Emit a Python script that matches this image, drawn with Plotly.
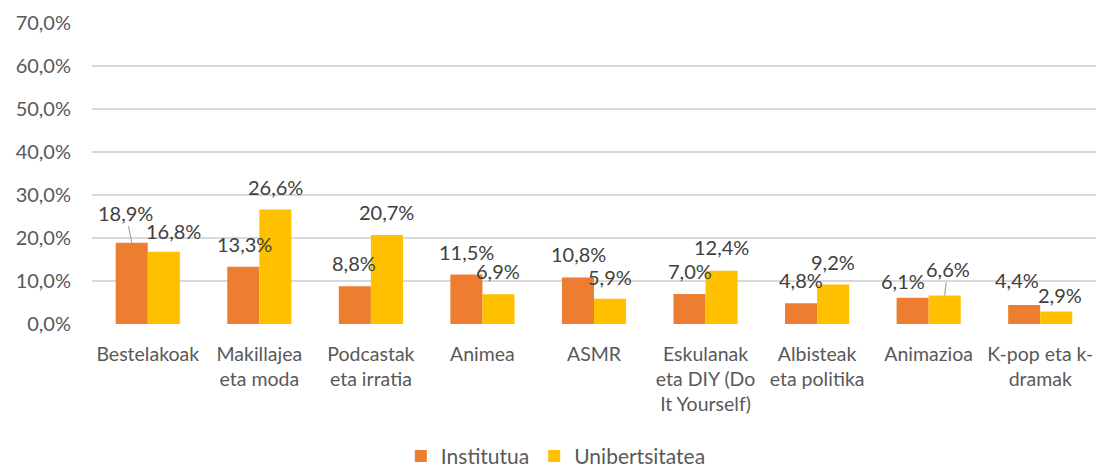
import plotly.graph_objects as go

categories = ["Bestelakoak", "Makillajea<br>eta moda", "Podcastak<br>eta irratia", "Animea", "ASMR",
              "Eskulanak<br>eta DIY (Do<br>It Yourself)", "Albisteak<br>eta politika", "Animazioa",
              "K-pop eta k-<br>dramak"]
institutua = [18.9, 13.3, 8.8, 11.5, 10.8, 7.0, 4.8, 6.1, 4.4]
unibertsitatea = [16.8, 26.6, 20.7, 6.9, 5.9, 12.4, 9.2, 6.6, 2.9]
series_names = ["Institutua", "Unibertsitatea"]

# label placement offsets (px) relative to bar top centre: (dx, dy up, leader line)
inst_label_off = [(-6, 30, True), (1, 23, False), (-1, 23, False), (0, 23, False), (0, 24, False),
                  (0, 23, False), (0, 23, False), (-10, 17, False), (-7, 25, False)]
uni_label_off = [(10, 21, False), (0, 23, False), (0, 23, False), (0, 23, False), (0, 22, False),
                 (0, 24, False), (0, 22, False), (3, 27, True), (4, 17, False)]

ORANGE = "#ED7D31"
GOLD = "#FFC000"
FONT = "Lato"
AXIS_COLOR = "#595959"
LABEL_COLOR = "#404040"

fig = go.Figure()
fig.add_trace(go.Bar(x=categories, y=institutua, name=series_names[0], marker_color=ORANGE,
                     marker_line_width=0))
fig.add_trace(go.Bar(x=categories, y=unibertsitatea, name=series_names[1], marker_color=GOLD,
                     marker_line_width=0))

bar_half = 16
annotations = []
for vals, offs, sign in ((institutua, inst_label_off, -1), (unibertsitatea, uni_label_off, 1)):
    for cat, v, (dx, dy, leader) in zip(categories, vals, offs):
        txt = f"{v:.1f}".replace(".", ",") + "%"
        if leader:
            annotations.append(dict(x=cat, y=v, xref="x", yref="y", text=txt,
                                    showarrow=True, arrowhead=0, arrowwidth=1.2,
                                    arrowcolor="#A6A6A6", ax=dx, ay=-dy, standoff=0,
                                    xshift=sign * bar_half,
                                    font=dict(family=FONT, size=20, color=LABEL_COLOR)))
        else:
            annotations.append(dict(x=cat, y=v, xref="x", yref="y", text=txt,
                                    showarrow=False, xanchor="center", yanchor="middle",
                                    xshift=sign * bar_half + dx, yshift=dy,
                                    font=dict(family=FONT, size=20, color=LABEL_COLOR)))

fig.update_layout(
    width=1097, height=467,
    margin=dict(l=92, r=1, t=23, b=143, autoexpand=False),
    paper_bgcolor="white", plot_bgcolor="white",
    barmode="group", bargap=0.425, bargroupgap=0,
    separators=",.",
    font=dict(family=FONT, size=20, color=AXIS_COLOR),
    showlegend=True,
    legend=dict(orientation="h", x=0.462, xanchor="center", y=-0.44, yanchor="middle",
                font=dict(family=FONT, size=21, color=AXIS_COLOR), itemwidth=30,
                traceorder="normal", borderwidth=0, tracegroupgap=0),
    annotations=annotations,
)
fig.update_yaxes(range=[0, 70], dtick=10, tickformat=".1f", ticksuffix="%",
                 showgrid=True, gridcolor="#D9D9D9", gridwidth=1.5, zeroline=False,
                 showline=False, ticks="", ticklabelstandoff=20, automargin=False,
                 tickfont=dict(family=FONT, size=20, color=AXIS_COLOR))
fig.update_xaxes(showgrid=False, showline=False, ticks="", ticklabelstandoff=16, automargin=False,
                 tickfont=dict(family=FONT, size=19.5, color=AXIS_COLOR), tickangle=0)

fig.write_html("out.html", config={"displayModeBar": False},
               post_script="document.body.style.margin='0';")
